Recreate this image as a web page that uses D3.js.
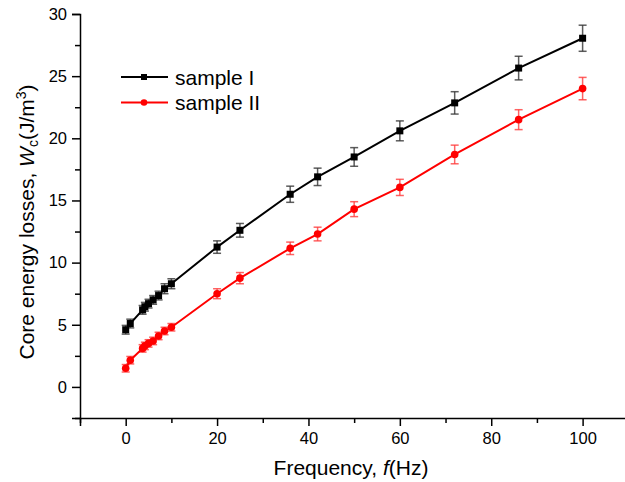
<!DOCTYPE html>
<html>
<head>
<meta charset="utf-8">
<script src="https://cdn.jsdelivr.net/npm/d3@7"></script>
<style>
  body { margin: 0; background: #fff; }
  svg { font-family: Arial, "Liberation Sans", sans-serif; }
  .axis path, .axis line { stroke: #000; stroke-width: 1.5; }
  .axis text { font-size: 16.5px; fill: #000; }
</style>
</head>
<body>
<svg id="chart" width="625" height="482"></svg>
<script>
// frequency (Hz)
const freq = [0, 1, 3.7, 4.2, 5, 6, 7.2, 8.5, 10, 20, 25, 36, 42, 50, 60, 72, 86, 100];
// core energy losses (J/m^3)
const sampleI  = [4.6, 5.1, 6.2, 6.45, 6.7, 7.0, 7.35, 7.9, 8.3, 11.25, 12.6, 15.5, 16.9, 18.5, 20.6, 22.85, 25.65, 28.05];
const errI     = [0.35, 0.35, 0.35, 0.35, 0.35, 0.35, 0.35, 0.4, 0.4, 0.5, 0.55, 0.65, 0.7, 0.75, 0.8, 0.9, 0.95, 1.05];
const sampleII = [1.5, 2.15, 3.1, 3.3, 3.5, 3.7, 4.1, 4.5, 4.8, 7.5, 8.75, 11.15, 12.3, 14.3, 16.05, 18.7, 21.5, 24.0];
const errII    = [0.3, 0.3, 0.3, 0.3, 0.3, 0.3, 0.3, 0.3, 0.3, 0.4, 0.45, 0.5, 0.55, 0.6, 0.65, 0.75, 0.8, 0.9];

const seriesNames = ["sample I", "sample II"];
const xTicks = [0, 20, 40, 60, 80, 100];
const yTicks = [0, 5, 10, 15, 20, 25, 30];

let svg = d3.select("#chart");

let x = d3.scaleLinear().domain([-10, 110]).range([80, 628.3]),
    y = d3.scaleLinear().domain([-2.5, 30]).range([418, 14]);

let series = [
    { name: seriesNames[0], vals: sampleI, err: errI, color: "#000", barColor: "#333", shape: "square" },
    { name: seriesNames[1], vals: sampleII, err: errII, color: "#ff0000", barColor: "#ff3b3b", shape: "circle" }
];

// minor ticks
let xMinor = d3.range(-10, 111, 10).filter(d => xTicks.indexOf(d) < 0);
let yMinor = d3.range(-2.5, 30, 5);

svg.append("g")
    .attr("class", "axis")
    .attr("transform", "translate(0," + 418 + ")")
    .call(d3.axisBottom(x).tickValues(xMinor).tickSize(5).tickFormat(""))
    .call(g => g.select(".domain").remove());

svg.append("g")
    .attr("class", "axis")
    .attr("transform", "translate(" + 80 + ",0)")
    .call(d3.axisLeft(y).tickValues(yMinor).tickSize(5).tickFormat(""))
    .call(g => g.select(".domain").remove());

svg.append("g")
    .attr("class", "axis")
    .attr("transform", "translate(0," + 418 + ")")
    .call(d3.axisBottom(x).tickValues(xTicks).tickSizeOuter(0).tickSize(8).tickPadding(6));

svg.append("g")
    .attr("class", "axis")
    .attr("transform", "translate(" + 80 + ",0)")
    .call(d3.axisLeft(y).tickValues(yTicks).tickSizeOuter(0).tickSize(8).tickPadding(5));

// error bars, lines, markers
let line = d3.line()
    .x(d => x(d.f))
    .y(d => y(d.v));

series.forEach(function(s) {
    let pts = freq.map((f, i) => ({ f: f, v: s.vals[i], e: s.err[i] }));
    let g = svg.append("g").attr("class", "series");

    let eb = g.append("g")
        .attr("stroke", s.barColor)
        .attr("stroke-opacity", 0.8)
        .attr("stroke-width", 1.5)
        .selectAll("g")
        .data(pts).enter()
        .append("g");
    eb.append("line")
        .attr("x1", d => x(d.f)).attr("x2", d => x(d.f))
        .attr("y1", d => y(d.v + d.e)).attr("y2", d => y(d.v - d.e));
    eb.append("line")
        .attr("x1", d => x(d.f) - 4).attr("x2", d => x(d.f) + 4)
        .attr("y1", d => y(d.v + d.e)).attr("y2", d => y(d.v + d.e));
    eb.append("line")
        .attr("x1", d => x(d.f) - 4).attr("x2", d => x(d.f) + 4)
        .attr("y1", d => y(d.v - d.e)).attr("y2", d => y(d.v - d.e));

    g.append("path")
        .datum(pts)
        .attr("fill", "none")
        .attr("stroke", s.color)
        .attr("stroke-width", 2)
        .attr("d", line);

    if (s.shape == "square") {
        g.selectAll("rect")
            .data(pts).enter()
            .append("rect")
            .attr("x", d => x(d.f) - 3.5)
            .attr("y", d => y(d.v) - 3.5)
            .attr("width", 7).attr("height", 7)
            .attr("fill", s.color);
    } else {
        g.selectAll("circle")
            .data(pts).enter()
            .append("circle")
            .attr("cx", d => x(d.f))
            .attr("cy", d => y(d.v))
            .attr("r", 3.8)
            .attr("fill", s.color);
    }
});

// legend
let legend = svg.append("g")
    .attr("class", "legend")
    .attr("transform", "translate(" + 121 + "," + 77 + ")");

let li = legend.selectAll("g")
    .data(series).enter()
    .append("g")
    .attr("transform", (d, i) => "translate(0," + (i * 25.5) + ")");

li.append("line")
    .attr("x1", 0).attr("x2", 47)
    .attr("stroke", d => d.color)
    .attr("stroke-width", 2);
li.each(function(d) {
    let g = d3.select(this);
    if (d.shape == "square") {
        g.append("rect").attr("x", 20).attr("y", -3).attr("width", 6).attr("height", 6).attr("fill", d.color);
    } else {
        g.append("circle").attr("cx", 23).attr("cy", 0).attr("r", 3.3).attr("fill", d.color);
    }
});
li.append("text")
    .attr("x", 54)
    .attr("y", 7.5)
    .style("font-size", "21px")
    .text(d => d.name);

// axis titles
let xt = svg.append("text")
    .attr("x", 351)
    .attr("y", 475)
    .attr("text-anchor", "middle")
    .style("font-size", "21px");
xt.append("tspan").text("Frequency, ");
xt.append("tspan").style("font-style", "italic").text("f");
xt.append("tspan").text("(Hz)");

let yt = svg.append("text")
    .attr("transform", "translate(" + 34 + "," + 222 + ") rotate(-90)")
    .attr("text-anchor", "middle")
    .style("font-size", "21px");
yt.append("tspan").text("Core energy losses, ");
yt.append("tspan").style("font-style", "italic").text("W");
yt.append("tspan").attr("dy", 4).style("font-size", "14px").text("c");
yt.append("tspan").attr("dy", -4).text("(J/m");
yt.append("tspan").attr("dy", -8).style("font-size", "14px").text("3");
yt.append("tspan").attr("dy", 8).text(")");
</script>
</body>
</html>
